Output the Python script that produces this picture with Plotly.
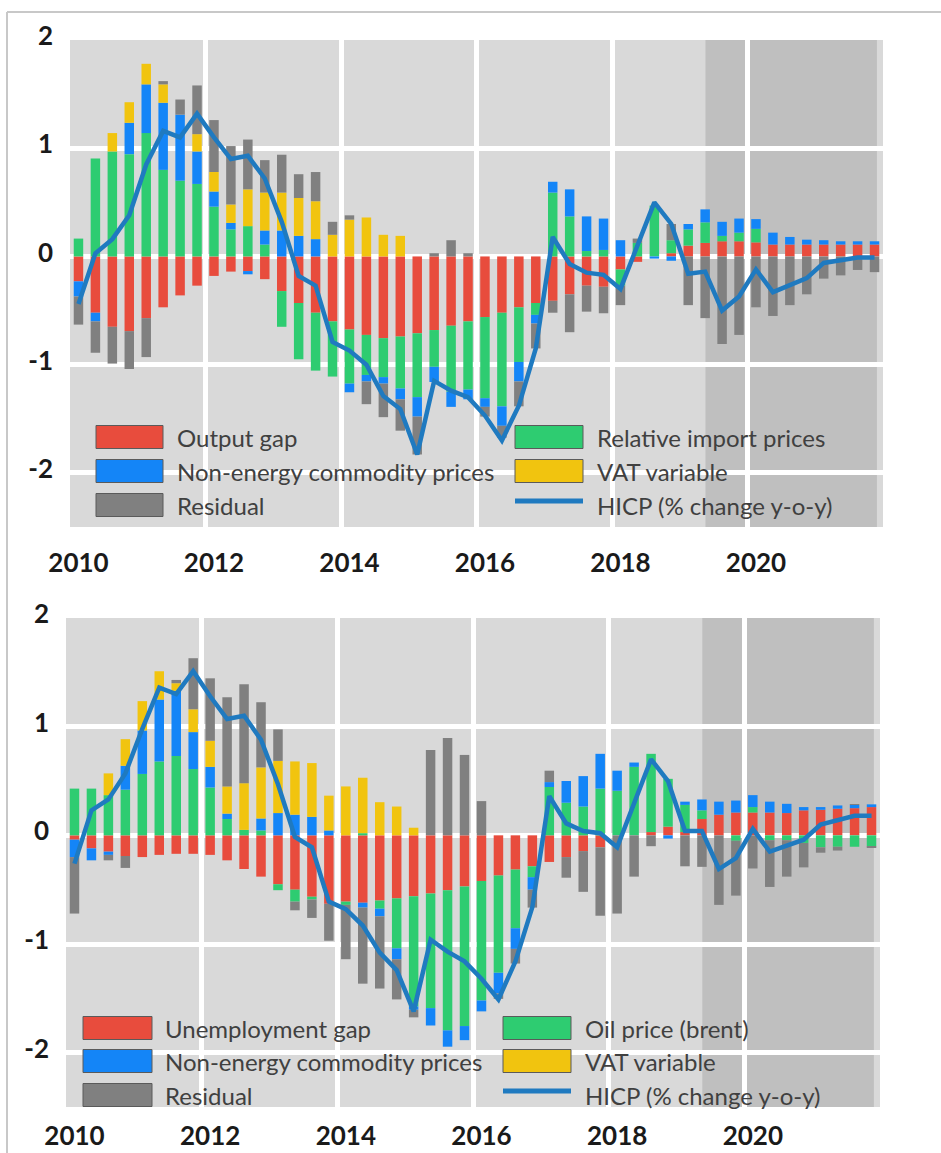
import plotly.graph_objects as go

W, H = 941, 1153

# ---------------- categories ----------------
years = list(range(2010, 2022))
quarters = [f"{y}Q{q}" for y in years for q in range(1, 5)]
x_pos = [int(s[:4]) + (int(s[-1]) - 0.5) / 4 for s in quarters]
tick_labels = ["2010", "2012", "2014", "2016", "2018", "2020"]
y_ticks = [-2, -1, 0, 1, 2]

# ---------------- top panel (output gap decomposition) ----------------
top_output_gap = [-0.23, -0.52, -0.65, -0.69, -0.57, -0.47, -0.36, -0.27,
                  -0.18, -0.14, -0.135, -0.21, -0.32, -0.43, -0.52, -0.60,
                  -0.675, -0.725, -0.755, -0.74, -0.71, -0.68, -0.64, -0.60,
                  -0.56, -0.52, -0.47, -0.43, -0.41, -0.35, -0.27, -0.28,
                  -0.12, -0.05, 0.0, 0.03, 0.10, 0.125, 0.14, 0.14,
                  0.13, 0.11, 0.11, 0.11, 0.11, 0.11, 0.11, 0.11]
top_import = [0.165, 0.905, 0.97, 0.945, 1.14, 0.80, 0.70, 0.67,
              0.46, 0.25, 0.28, 0.11, -0.33, -0.52, -0.535, -0.51,
              -0.50, -0.37, -0.36, -0.48, -0.59, -0.34, -0.61, -0.63,
              -0.75, -0.865, -0.505, -0.11, 0.59, 0.37, 0.05, 0.06,
              -0.15, 0.125, 0.47, 0.12, 0.15, 0.19, 0.05, 0.08,
              0.125, 0.0, 0.0, 0.0, 0.0, 0.0, 0.0, 0.0]
top_nonenergy = [-0.14, -0.08, 0.0, 0.29, 0.45, 0.62, 0.61, 0.30,
                 0.14, 0.06, -0.03, 0.13, 0.24, 0.19, 0.16, 0.0,
                 -0.08, -0.06, -0.06, -0.10, -0.18, -0.14, -0.14, -0.09,
                 -0.08, -0.18, -0.18, -0.08, 0.10, 0.25, 0.32, 0.29,
                 0.15, 0.0, -0.02, -0.04, 0.05, 0.12, 0.13, 0.13,
                 0.09, 0.11, 0.07, 0.045, 0.04, 0.03, 0.03, 0.03]
top_vat = [0.0, 0.0, 0.17, 0.19, 0.19, 0.17, 0.0, 0.16,
           0.18, 0.17, 0.34, 0.35, 0.35, 0.35, 0.35, 0.20,
           0.34, 0.36, 0.20, 0.19, 0.0, 0.0, 0.0, 0.0,
           0.0, 0.0, 0.0, 0.0, 0.0, 0.0, 0.0, 0.0,
           0.0, 0.0, 0.0, 0.0, 0.0, 0.0, 0.0, 0.0,
           0.0, 0.0, 0.0, 0.0, 0.0, 0.0, 0.0, 0.0]
top_residual = [-0.26, -0.29, -0.34, -0.35, -0.36, 0.03, 0.14, 0.45,
                0.48, 0.54, 0.46, 0.30, 0.35, 0.22, 0.27, 0.12,
                0.04, -0.21, -0.31, -0.29, -0.35, 0.03, 0.15, 0.03,
                -0.09, -0.11, -0.23, -0.23, -0.11, -0.35, -0.24, -0.245,
                -0.18, 0.04, 0.0, 0.15, -0.45, -0.57, -0.81, -0.725,
                -0.47, -0.55, -0.45, -0.35, -0.205, -0.175, -0.125, -0.145]
top_hicp = [-0.44, 0.03, 0.16, 0.38, 0.85, 1.16, 1.10, 1.32,
            1.10, 0.90, 0.93, 0.72, 0.32, -0.18, -0.27, -0.79,
            -0.87, -1.00, -1.29, -1.41, -1.83, -1.15, -1.24, -1.30,
            -1.47, -1.70, -1.38, -0.85, 0.18, -0.07, -0.15, -0.17,
            -0.30, 0.10, 0.50, 0.30, -0.16, -0.14, -0.50, -0.37,
            -0.12, -0.33, -0.27, -0.20, -0.06, -0.04, -0.01, -0.01]

# ---------------- bottom panel (unemployment gap decomposition) ----------------
bot_unemp_gap = [-0.04, -0.12, -0.15, -0.19, -0.20, -0.18, -0.17, -0.17,
                 -0.18, -0.23, -0.31, -0.38, -0.45, -0.50, -0.565, -0.63,
                 -0.61, -0.62, -0.60, -0.58, -0.56, -0.535, -0.505, -0.47,
                 -0.42, -0.37, -0.315, -0.285, -0.245, -0.20, -0.145, -0.11,
                 0.0, 0.0, 0.03, 0.08, 0.03, 0.15, 0.19, 0.21,
                 0.21, 0.21, 0.205, 0.23, 0.235, 0.245, 0.25, 0.26]
bot_oil = [0.43, 0.43, 0.37, 0.42, 0.565, 0.68, 0.73, 0.61,
           0.44, 0.15, 0.05, 0.045, -0.055, -0.11, -0.025, 0.0,
           -0.03, 0.02, -0.075, -0.46, -1.015, -1.055, -1.29, -1.285,
           -1.10, -0.895, -0.54, -0.10, 0.445, 0.30, 0.265, 0.43,
           0.41, 0.63, 0.72, 0.44, 0.25, 0.08, 0.0, -0.05,
           0.05, -0.045, -0.045, -0.07, -0.11, -0.105, -0.105, -0.10]
bot_nonenergy = [-0.16, -0.11, -0.03, 0.22, 0.40, 0.57, 0.60, 0.34,
                 0.19, 0.05, 0.0, 0.11, 0.205, 0.19, 0.17, 0.045,
                 0.0, -0.045, -0.07, -0.10, -0.03, -0.16, -0.15, -0.13,
                 -0.10, -0.19, -0.19, -0.115, 0.045, 0.20, 0.28, 0.32,
                 0.185, 0.04, 0.0, -0.03, 0.03, 0.10, 0.12, 0.11,
                 0.11, 0.10, 0.085, 0.03, 0.025, 0.03, 0.03, 0.025]
bot_vat = [0.0, 0.0, 0.20, 0.245, 0.27, 0.26, 0.07, 0.21,
           0.24, 0.25, 0.43, 0.47, 0.48, 0.49, 0.495, 0.32,
           0.45, 0.51, 0.305, 0.265, 0.07, 0.0, 0.0, 0.0,
           0.0, 0.0, 0.0, 0.0, 0.0, 0.0, 0.0, 0.0,
           0.0, 0.0, 0.0, 0.0, 0.0, 0.0, 0.0, 0.0,
           0.0, 0.0, 0.0, 0.0, 0.0, 0.0, 0.0, 0.0]
bot_residual = [-0.52, 0.0, -0.05, -0.11, 0.0, 0.0, 0.03, 0.47,
                0.575, 0.82, 0.91, 0.60, 0.29, -0.08, -0.17, -0.34,
                -0.50, -0.70, -0.665, -0.37, -0.07, 0.785, 0.895, 0.74,
                0.315, -0.05, -0.135, -0.165, 0.105, -0.19, -0.375, -0.63,
                -0.72, -0.38, -0.10, 0.0, -0.285, -0.29, -0.64, -0.505,
                -0.305, -0.43, -0.335, -0.225, -0.05, -0.035, 0.005, -0.01]
bot_hicp = [-0.26, 0.23, 0.33, 0.57, 0.98, 1.36, 1.30, 1.51,
            1.28, 1.07, 1.10, 0.88, 0.47, -0.015, -0.11, -0.61,
            -0.68, -0.83, -1.08, -1.24, -1.62, -0.96, -1.07, -1.16,
            -1.32, -1.51, -1.16, -0.66, 0.36, 0.11, 0.04, 0.02,
            -0.11, 0.29, 0.70, 0.50, 0.04, 0.04, -0.31, -0.21,
            0.06, -0.15, -0.10, -0.04, 0.10, 0.135, 0.18, 0.18]

# ---------------- styling ----------------
C_RED = "#E84C3D"
C_GREEN = "#2ECC71"
C_BLUE = "#1485F7"
C_YELLOW = "#F1C40F"
C_GRAY = "#808080"
C_LINE = "#1F7AC0"
BG = "#D9D9D9"
SHADE = "#BFBFBF"
BAR_W = 0.14
FONT = "Lato"

top_series = [("Output gap", top_output_gap, C_RED),
              ("Relative import prices", top_import, C_GREEN),
              ("Non-energy commodity prices", top_nonenergy, C_BLUE),
              ("VAT variable", top_vat, C_YELLOW),
              ("Residual", top_residual, C_GRAY)]
bot_series = [("Unemployment gap", bot_unemp_gap, C_RED),
              ("Oil price (brent)", bot_oil, C_GREEN),
              ("Non-energy commodity prices", bot_nonenergy, C_BLUE),
              ("VAT variable", bot_vat, C_YELLOW),
              ("Residual", bot_residual, C_GRAY)]

fig = go.Figure()
for (series, hicp, xa, ya) in [(top_series, top_hicp, "x", "y"),
                               (bot_series, bot_hicp, "x2", "y3")]:
    for name, vals, col in series:
        fig.add_trace(go.Bar(x=x_pos, y=vals, name=name, width=BAR_W,
                             marker=dict(color=col, line=dict(width=0)),
                             xaxis=xa, yaxis=ya))
    fig.add_trace(go.Scatter(x=x_pos, y=hicp, mode="lines",
                             name="HICP (% change y-o-y)",
                             line=dict(color=C_LINE, width=4.5),
                             xaxis=xa, yaxis=ya))


def px(X):
    return X / W


def py(Y):
    return 1 - Y / H


tick_font = dict(family=FONT, size=26, color="#1a1a1a", weight=700)

x_common = dict(range=[2010, 2022], tickmode="array",
                tickvals=[int(t) + 0.125 for t in tick_labels],
                ticktext=tick_labels, showgrid=False, zeroline=False,
                showline=False, ticks="", tickfont=tick_font,
                minor=dict(tickmode="array", tickvals=[2012, 2014, 2016, 2018, 2020],
                           showgrid=True, gridcolor="white", gridwidth=5, ticks=""))
y_common = dict(range=[-2.5, 2.0], tickmode="array", tickvals=y_ticks,
                ticktext=[str(v) for v in y_ticks], showgrid=False,
                zeroline=False, showline=False, ticks="", tickfont=tick_font,
                ticklabelshift=-4)
y_minor = dict(tickmode="array", tickvals=[-2, -1, 0, 1], showgrid=True,
               gridcolor="white", gridwidth=5, ticks="")

fig.update_layout(
    width=W, height=H, template="none",
    margin=dict(l=0, r=0, t=0, b=0),
    paper_bgcolor="white", plot_bgcolor=BG,
    barmode="relative", showlegend=False,
    xaxis=dict(domain=[px(70), px(883)], anchor="y", ticklabelstandoff=18, **x_common),
    xaxis2=dict(domain=[px(66), px(880)], anchor="y3", ticklabelstandoff=11, **x_common),
    yaxis=dict(domain=[py(527), py(40)], anchor="x", ticklabelstandoff=16,
               minor=y_minor, **y_common),
    yaxis2=dict(overlaying="y", side="right", anchor="x", ticklabelstandoff=23,
                **y_common),
    yaxis3=dict(domain=[py(1107), py(618)], anchor="x2", ticklabelstandoff=16,
                minor=y_minor, **y_common),
    yaxis4=dict(overlaying="y3", side="right", anchor="x2", ticklabelstandoff=23,
                **y_common),
)

shapes = []
annotations = []
# forecast shading
for xr, yr in [("x", "y domain"), ("x2", "y3 domain")]:
    shapes.append(dict(type="rect", xref=xr, yref=yr, x0=2019.38, x1=2021.91,
                       y0=0, y1=1, fillcolor=SHADE, line=dict(width=0),
                       layer="below"))

# legends (manual, two columns)
legend_font = dict(family=FONT, size=24, color="#404040")


def add_legend(cols, rows_y, items):
    k = 0
    for (sx0, sx1, tx) in cols:
        for ry in rows_y:
            kind, color, label = items[k]
            k += 1
            if kind == "bar":
                shapes.append(dict(type="rect", xref="paper", yref="paper",
                                   x0=px(sx0), x1=px(sx1), y0=py(ry + 11.5), y1=py(ry - 11.5),
                                   fillcolor=color, line=dict(color="#5a5a5a", width=1),
                                   layer="above"))
            else:
                shapes.append(dict(type="line", xref="paper", yref="paper",
                                   x0=px(sx0), x1=px(sx1), y0=py(ry - 4), y1=py(ry - 4),
                                   line=dict(color=color, width=5), layer="above"))
            annotations.append(dict(xref="paper", yref="paper", x=px(tx), y=py(ry),
                                    xanchor="left", yanchor="middle", showarrow=False,
                                    text=label, font=legend_font))


add_legend([(96, 163, 175), (515, 583, 595)], [437, 471, 505],
           [("bar", C_RED, "Output gap"),
            ("bar", C_BLUE, "Non-energy commodity prices"),
            ("bar", C_GRAY, "Residual"),
            ("bar", C_GREEN, "Relative import prices"),
            ("bar", C_YELLOW, "VAT variable"),
            ("line", C_LINE, "HICP (% change y-o-y)")])
add_legend([(83, 152, 163), (503, 571, 583)], [1028, 1061, 1095],
           [("bar", C_RED, "Unemployment gap"),
            ("bar", C_BLUE, "Non-energy commodity prices"),
            ("bar", C_GRAY, "Residual"),
            ("bar", C_GREEN, "Oil price (brent)"),
            ("bar", C_YELLOW, "VAT variable"),
            ("line", C_LINE, "HICP (% change y-o-y)")])

# outer frame
shapes.append(dict(type="line", xref="paper", yref="paper", x0=px(7), x1=1,
                   y0=py(12), y1=py(12), line=dict(color="#C8C8C8", width=2)))
shapes.append(dict(type="line", xref="paper", yref="paper", x0=px(7), x1=px(7),
                   y0=py(12), y1=0, line=dict(color="#C8C8C8", width=2)))

fig.update_layout(shapes=shapes, annotations=annotations)
fig.write_html("out.html", config={"displayModeBar": False},
               post_script="document.body.style.margin='0px';document.body.style.overflow='hidden';")
